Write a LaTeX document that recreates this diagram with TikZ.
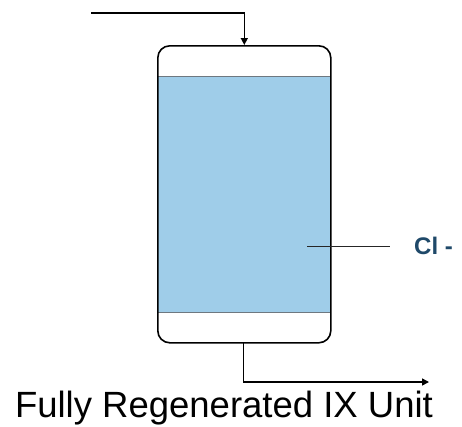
\documentclass[tikz,border=0pt]{standalone}
\usepackage{fontspec}
\setmainfont{Liberation Sans}
\usetikzlibrary{arrows.meta}
\definecolor{resin}{RGB}{159,205,233}
\definecolor{clblue}{RGB}{31,73,105}
\definecolor{bedline}{RGB}{110,120,128}
\begin{document}
\begin{tikzpicture}[x=1pt,y=-1pt,
  vessel/.style={draw=black,line width=1.6pt,rounded corners=12pt,minimum width=173pt,minimum height=297pt,inner sep=0pt},
  flow/.style={draw=black,line width=1.5pt,-{Triangle[length=7pt,width=7pt]}},
  probe/.style={draw=black!85,line width=1pt},
  lbl/.style={inner sep=0pt}]
\useasboundingbox (0,0) rectangle (462,426);
\fill[resin] (157,76) rectangle (330,312);
\draw[bedline,line width=1pt] (157,76) -- (330,76) (157,312) -- (330,312);
\node[vessel,anchor=north west] (vessel) at (157,45) {};
\coordinate (in) at (91,13);
\draw[flow] (in) -| (vessel.north);
\coordinate (outstart) at (243.5,343);
\coordinate (out) at (429,382);
\draw[flow] (outstart) |- (out);
\node[lbl,anchor=west,text=clblue,font=\bfseries\fontsize{24}{24}\selectfont] (cl) at (414,246) {Cl -};
\coordinate (clp) at (307,246);
\coordinate (cle) at (390,246);
\draw[probe] (clp) -- (cle);
\node[lbl,anchor=base,font=\fontsize{36.5}{36.5}\selectfont] (title) at (224,417.5) {Fully Regenerated IX Unit};
\end{tikzpicture}
\end{document}
